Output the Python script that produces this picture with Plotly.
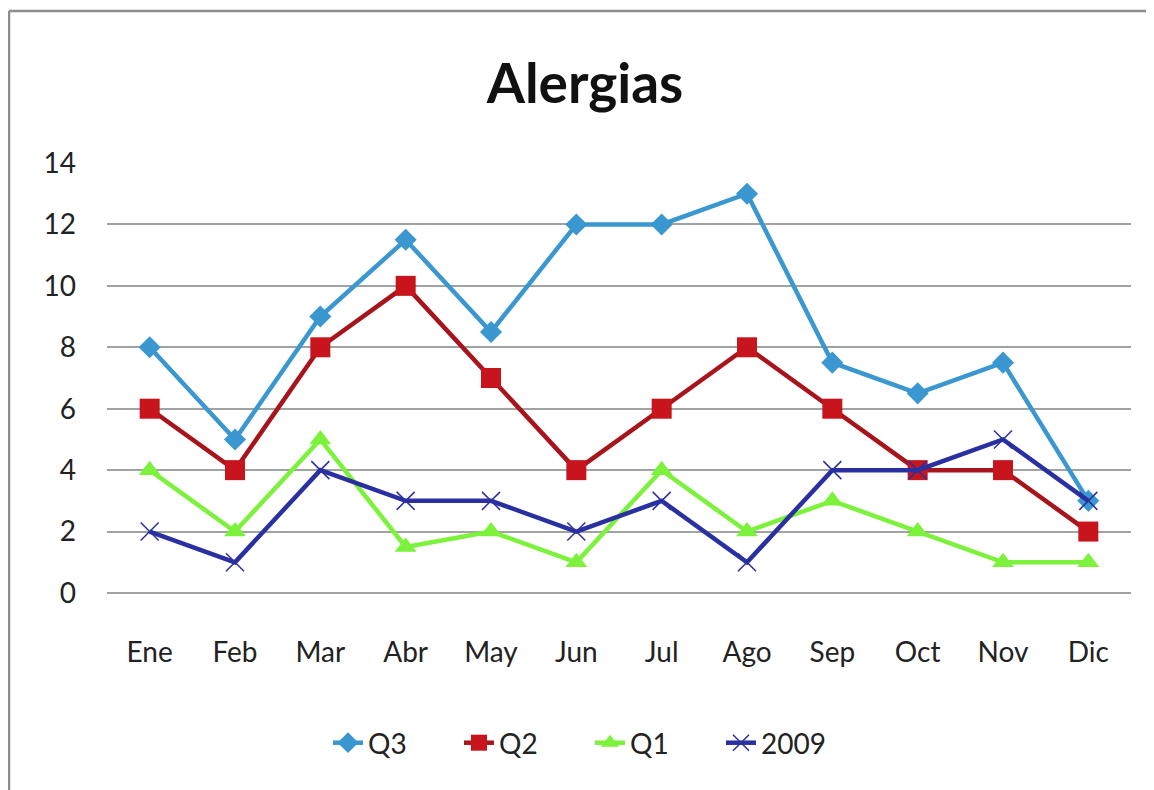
import plotly.graph_objects as go

months = ["Ene", "Feb", "Mar", "Abr", "May", "Jun", "Jul", "Ago", "Sep", "Oct", "Nov", "Dic"]
q3 = [8, 5, 9, 11.5, 8.5, 12, 12, 13, 7.5, 6.5, 7.5, 3]
q2 = [6, 4, 8, 10, 7, 4, 6, 8, 6, 4, 4, 2]
q1 = [4, 2, 5, 1.5, 2, 1, 4, 2, 3, 2, 1, 1]
y2009 = [2, 1, 4, 3, 3, 2, 3, 1, 4, 4, 5, 3]
y_ticks = [0, 2, 4, 6, 8, 10, 12, 14]

# page body has an 8px margin; figure coordinates are offset accordingly
W, H = 1146, 782
L, R, T, B = 99, 23, 155, 197
pw = W - L - R
ph = H - T - B

FONT = "Lato, Open Sans, sans-serif"

fig = go.Figure()
fig.add_trace(go.Scatter(x=months, y=q3, name="Q3", mode="lines+markers",
                         line=dict(color="#3A97CF", width=4.5),
                         marker=dict(symbol="diamond", size=17, color="#3A97CF")))
fig.add_trace(go.Scatter(x=months, y=q2, name="Q2", mode="lines+markers",
                         line=dict(color="#A8141C", width=4.5),
                         marker=dict(symbol="square", size=20, color="#C8141C")))
fig.add_trace(go.Scatter(x=months, y=q1, name="Q1", mode="lines+markers",
                         line=dict(color="#7CF23C", width=4.5),
                         marker=dict(symbol="triangle-up", size=19, color="#7CF23C")))
fig.add_trace(go.Scatter(x=months, y=y2009, name="2009", mode="lines+markers",
                         line=dict(color="#2A30A0", width=4.5),
                         marker=dict(symbol="x-thin-open", size=18,
                                     line=dict(color="#A8B0D0", width=1.5))))

# outer chart border (left and top edges visible)
fig.add_shape(type="line", xref="paper", yref="paper",
              x0=(1 - L) / pw, x1=(1 - L) / pw, y0=-(H - T - ph + 20) / ph, y1=1 + (T - 3) / ph,
              line=dict(color="#8A8F8C", width=2.5))
fig.add_shape(type="line", xref="paper", yref="paper",
              x0=(1 - L) / pw, x1=(W + 20 - L) / pw, y0=1 + (T - 3) / ph, y1=1 + (T - 3) / ph,
              line=dict(color="#8A8F8C", width=2.5))

fig.update_layout(
    width=W, height=H,
    margin=dict(l=L, r=R, t=T, b=B),
    paper_bgcolor="white", plot_bgcolor="white",
    title=dict(text="<b>Alergias</b>", x=577 / W, xanchor="center", y=1 - 76 / H, yanchor="middle",
               font=dict(family=FONT, size=55, color="#111111")),
    font=dict(family=FONT, size=28, color="#222222"),
    xaxis=dict(range=[-0.5, 11.5], showgrid=False, showline=False, zeroline=False,
               tickfont=dict(size=28), ticklabelstandoff=40, ticks=""),
    yaxis=dict(range=[0, 14], tickvals=y_ticks, showgrid=True, gridcolor="#9FA3A1", gridwidth=2,
               zeroline=True, zerolinecolor="#9FA3A1", zerolinewidth=2, showline=False,
               tickfont=dict(size=28), ticklabelstandoff=30, ticks=""),
    legend=dict(orientation="h", x=(582 - L) / pw, xanchor="center", y=-(735 - (T + ph)) / ph,
                yanchor="middle", font=dict(size=28), entrywidth=86, entrywidthmode="pixels",
                bgcolor="rgba(0,0,0,0)"),
    showlegend=True,
)

fig.write_html("out.html")
